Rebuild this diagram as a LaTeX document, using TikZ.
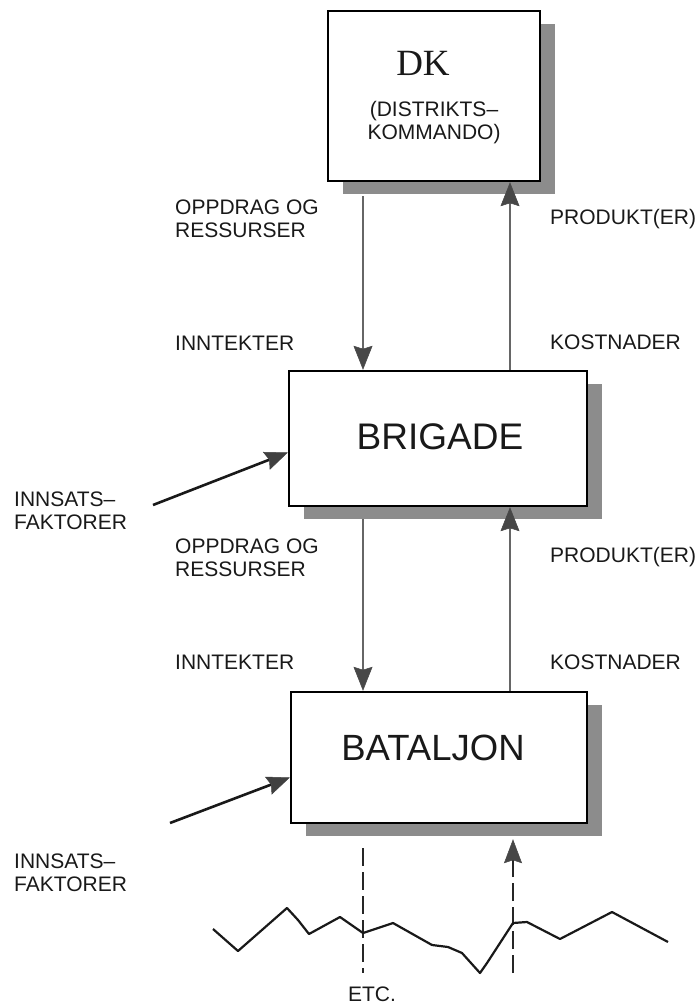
\documentclass[tikz,border=0pt]{standalone}
\usepackage{fontspec}
\setmainfont{Liberation Sans}
\newfontfamily\dkfont{Liberation Serif}
\usetikzlibrary{positioning,arrows.meta,calc,shadows}

\begin{document}
\begin{tikzpicture}[x=1pt,y=-1pt,
    unit/.style={draw=black,line width=2.4pt,fill=white,inner sep=0pt,
      drop shadow={shadow xshift=15pt,shadow yshift=-13pt,fill=black!45,opacity=1}},
    lbl/.style={anchor=west,inner sep=0pt,align=left,text=black!90,
      font=\fontsize{21}{23}\selectfont},
    flow/.style={draw=black!60,line width=1.8pt,
      -{Stealth[length=24pt,width=19pt,inset=3pt,line width=0.5pt,color=black!72]}},
    inflow/.style={draw=black!90,line width=2.6pt,
      -{Stealth[length=23pt,width=19pt,inset=3pt,line width=0.5pt,color=black!75]}},
    dashline/.style={draw=black!85,line width=2pt,dash pattern=on 18pt off 6pt},
    ground/.style={draw=black!90,line width=2.2pt,line join=round}]
  \useasboundingbox (0,0) rectangle (695,1005);

  % units
  \node[unit,minimum width=212pt,minimum height=170pt] (dk) at (434,96) {};
  \node[font=\dkfont\fontsize{37}{37}\selectfont,text=black!90] (dkname) at (423,63) {DK};
  \node[align=center,text=black!90,font=\fontsize{21}{23}\selectfont] (dksub) at (434,123)
    {(DISTRIKTS–\\KOMMANDO)};
  \node[unit,minimum width=298pt,minimum height=135pt] (brig) at (438,438.5) {};
  \node[text=black!90,font=\fontsize{37}{37}\selectfont] (brigname) at (440,437) {BRIGADE};
  \node[unit,minimum width=296pt,minimum height=131pt] (bat) at (439,757.5) {};
  \node[text=black!90,font=\fontsize{36.5}{37}\selectfont] (batname) at (433,748) {BATALJON};

  % flows between the levels
  \coordinate (xl) at (363,0);
  \coordinate (xr) at (510,0);
  \coordinate (dkbase) at ([yshift=-14pt]dk.south);
  \coordinate (brigbase) at ([yshift=-12pt]brig.south);
  \draw[flow] (dkbase -| xl) -- (brig.north -| xl);
  \draw[flow] (brig.north -| xr) -- (dk.south -| xr);
  \draw[flow] (brigbase -| xl) -- (bat.north -| xl);
  \draw[flow] (bat.north -| xr) -- (brig.south -| xr);

  % input factors
  \coordinate (in1) at (153,505);
  \coordinate (in2) at (170,823);
  \draw[inflow] (in1) -- ($(brig.west)+(0,14)$);
  \draw[inflow] (in2) -- ($(bat.west)+(0,20)$);

  % lower levels
  \coordinate (low1) at (363,973);
  \coordinate (low2) at (513,973);
  \coordinate (batgap) at ([yshift=-24pt]bat.south);
  \coordinate (battip) at ([yshift=-15pt]bat.south);
  \draw[dashline] (batgap -| low1) -- (low1);
  \draw[dashline,-{Stealth[length=24pt,width=18pt,inset=3pt,line width=0.5pt,color=black!72]}]
    (low2) -- (battip -| low2);
  \draw[ground] (213,929) -- (238,951) -- (287,908) -- (298,920) -- (309,934) -- (340,917)
    -- (363,933) -- (393,923) -- (432,945) -- (448,947) -- (462,953) -- (480,973)
    -- (487,963) -- (513,923) -- (527,922) -- (560,939) -- (612,912) -- (668,942);

  % labels
  \node[lbl] (opp1) at (175,218.5) {OPPDRAG OG\\RESSURSER};
  \node[lbl] (prod1) at (550,219) {PRODUKT(ER)};
  \node[lbl] (inn1) at (175,343) {INNTEKTER};
  \node[lbl] (kost1) at (550,342) {KOSTNADER};
  \node[lbl] (ins1) at (14,511) {INNSATS–\\FAKTORER};
  \node[lbl] (opp2) at (175,558) {OPPDRAG OG\\RESSURSER};
  \node[lbl] (prod2) at (550,557) {PRODUKT(ER)};
  \node[lbl] (inn2) at (175,662) {INNTEKTER};
  \node[lbl] (kost2) at (550,662) {KOSTNADER};
  \node[lbl] (ins2) at (14,873) {INNSATS–\\FAKTORER};
  \node[lbl,anchor=center] (etc) at (372,994) {ETC.};
\end{tikzpicture}
\end{document}
